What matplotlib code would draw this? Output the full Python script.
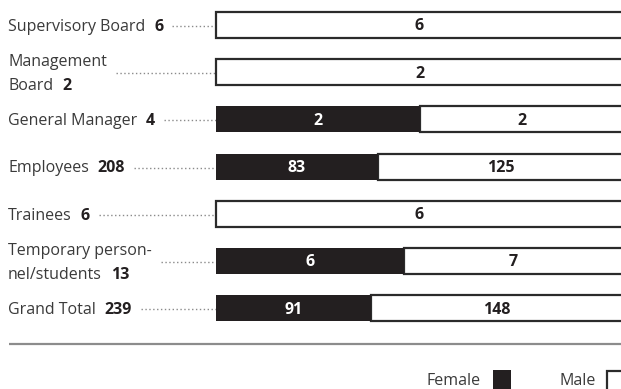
import matplotlib.pyplot as plt
from matplotlib.patches import Rectangle

# Staff by group, split by gender
groups = ["Supervisory Board", "Management\nBoard", "General Manager", "Employees",
          "Trainees", "Temporary person-\nnel/students", "Grand Total"]
female = [0, 0, 2, 83, 0, 6, 91]
male = [6, 2, 2, 125, 6, 7, 148]
totals = [f + m for f, m in zip(female, male)]

DARK = "#231f20"
TEXT = "#3a3a3a"
FONT = "Open Sans"
plt.rcParams["font.family"] = [FONT, "DejaVu Sans"]
LBL = 11.5

W, H = 621, 389
fig = plt.figure(figsize=(W / 100, H / 100), dpi=100)

# background axes in pixel units for labels, leaders, rule and legend
bg = fig.add_axes([0, 0, 1, 1])
bg.set_xlim(0, W)
bg.set_ylim(H, 0)
bg.axis("off")

# bar axes: 100% stacked, one row per group
bar_left, bar_w = 215.5, 408
row0, step = 25, 47.2
ax = fig.add_axes([bar_left / W, 0, bar_w / W, 1])
ax.set_xlim(0, 1)
ax.set_ylim((H - row0) / step, -row0 / step)
ax.axis("off")

rows = list(range(len(groups)))
fshare = [f / t for f, t in zip(female, totals)]
mshare = [m / t for m, t in zip(male, totals)]

ax.barh(rows, mshare, left=fshare, height=26 / step, color="white",
        edgecolor="#2b2b2b", linewidth=1.6, clip_on=False)
ax.barh(rows, fshare, height=26 / step, color=DARK, linewidth=0)

# digits sit on a baseline about half a cap height below the row centre
dy = 5.5 / step
for r in rows:
    if female[r]:
        ax.text(fshare[r] / 2, r + dy, str(female[r]), ha="center", va="baseline",
                color="white", fontsize=11.5, fontweight="bold")
    ax.text(fshare[r] + mshare[r] / 2, r + dy, str(male[r]), ha="center",
            va="baseline", color=DARK, fontsize=11.5, fontweight="bold")

fig.canvas.draw()
rend = fig.canvas.get_renderer()
inv = bg.transData.inverted()

line_gap = 24
cap = 5.7
for r, name in enumerate(groups):
    yc = row0 + step * r
    lines = name.split("\n")
    y_first = yc - line_gap / 2 * (len(lines) - 1)
    ends = []
    for i, ln in enumerate(lines):
        t = bg.text(8, y_first + i * line_gap + cap, ln, ha="left", va="baseline",
                    color=TEXT, fontsize=LBL)
        ends.append(inv.transform(t.get_window_extent(rend))[1][0])
    b = bg.text(ends[-1] + 9, y_first + (len(lines) - 1) * line_gap + cap,
                str(totals[r]), ha="left", va="baseline", color=DARK,
                fontsize=LBL, fontweight="bold")
    bend = inv.transform(b.get_window_extent(rend))[1][0]
    start = (bend if len(lines) == 1 else max(ends)) + 9
    bg.plot([start, bar_left], [yc + 1, yc + 1], color="#8a8a8a", lw=1,
            linestyle=(0, (1, 1.8)))

# separator rule
bg.plot([9, W], [344, 344], color="#8c8c8c", lw=1.6, solid_capstyle="butt")

# legend
bg.text(481, 385, "Female", ha="right", va="baseline", color=TEXT, fontsize=LBL)
bg.add_patch(Rectangle((492.5, 370), 18, 20, facecolor=DARK, edgecolor="none",
                       clip_on=False))
bg.text(596, 385, "Male", ha="right", va="baseline", color=TEXT, fontsize=LBL)
bg.add_patch(Rectangle((606.5, 371), 18, 20, facecolor="white", edgecolor="#2b2b2b",
                       linewidth=1.6, clip_on=False))

fig.savefig("out.png", dpi=100)
